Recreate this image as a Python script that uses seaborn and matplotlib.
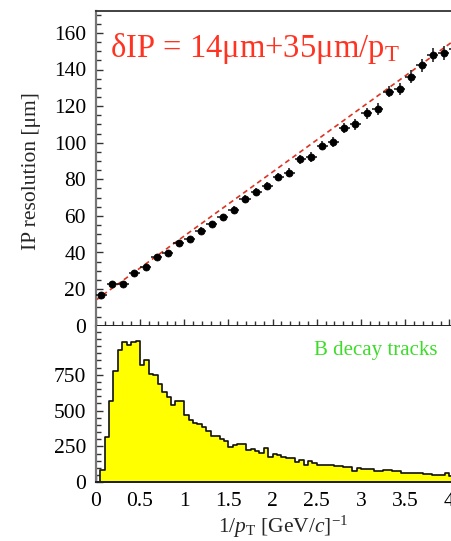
import numpy as np
import pandas as pd
import matplotlib
matplotlib.use("Agg")
import matplotlib.pyplot as plt
from matplotlib.ticker import MultipleLocator, FixedLocator
import seaborn as sns

# ---------------- data ----------------
# top panel: IP resolution vs 1/pT (bin centres, width 0.125)
inv_pt = [0.0625, 0.1875, 0.3125, 0.4375, 0.5625, 0.6875, 0.8125, 0.9375,
          1.0625, 1.1875, 1.3125, 1.4375, 1.5625, 1.6875, 1.8125, 1.9375,
          2.0625, 2.1875, 2.3125, 2.4375, 2.5625, 2.6875, 2.8125, 2.9375,
          3.0625, 3.1875, 3.3125, 3.4375, 3.5625, 3.6875, 3.8125, 3.9375,
          4.0625]
ip_res = [16.8, 23.0, 22.6, 28.8, 32.2, 37.7, 39.6, 45.4, 47.5, 51.9, 55.6,
          59.2, 63.2, 69.2, 72.9, 76.3, 81.3, 83.6, 90.9, 92.3, 98.4, 100.5,
          107.9, 110.1, 116.1, 118.4, 127.9, 129.2, 136.1, 142.3, 147.9, 148.9,
          151.2]
ip_err = [1.4, 1.4, 1.4, 1.5, 1.5, 1.6, 1.6, 1.7, 1.7, 1.8, 1.8, 1.9, 2.0,
          2.1, 2.1, 2.2, 2.3, 2.4, 2.5, 2.6, 2.6, 2.7, 2.8, 2.9, 3.0, 3.1,
          3.2, 3.3, 3.4, 3.5, 3.6, 3.7, 3.8]
x_halfwidth = 0.0625
fit_const = 14.0   # um
fit_slope = 35.0   # um / (1/pT)

# bottom panel: B decay track 1/pT distribution (bin width 0.05)
hist_edges = [round(0.05 * i, 2) for i in range(85)]
hist_counts = [0, 84, 318, 567, 779, 923, 981, 960, 979, 984,
               818, 853, 758, 746, 684, 628, 597, 537, 569, 569,
               470, 435, 412, 405, 388, 360, 325, 325, 300, 290,
               249, 260, 269, 265, 225, 232, 216, 202, 237, 179,
               195, 192, 179, 170, 170, 140, 156, 123, 147, 138,
               124, 119, 122, 121, 115, 114, 107, 106, 81, 100,
               94, 91, 90, 82, 81, 86, 84, 79, 78, 67,
               63, 63, 66, 66, 58, 58, 53, 53, 53, 62,
               47, 45, 44, 42]
hist_centers = [(hist_edges[i] + hist_edges[i + 1]) / 2 for i in range(len(hist_counts))]

x_ticks = [0, 0.5, 1, 1.5, 2, 2.5, 3, 3.5, 4]
x_ticklabels = ["0", "0.5", "1", "1.5", "2", "2.5", "3", "3.5", "4"]
top_yticks = [0, 20, 40, 60, 80, 100, 120, 140, 160]
bot_yticks = [0, 250, 500, 750]

# ---------------- style ----------------
sns.set_style("ticks")
plt.rcParams["font.family"] = ["Liberation Serif", "DejaVu Serif"]
plt.rcParams["mathtext.fontset"] = "custom"
plt.rcParams["mathtext.rm"] = "Liberation Serif"
plt.rcParams["mathtext.it"] = "Liberation Serif:italic"
plt.rcParams["mathtext.bf"] = "Liberation Serif:bold"

W, H = 452, 541
fig = plt.figure(figsize=(W / 100, H / 100), dpi=100)
fig.patch.set_facecolor("white")

x0_px = 95.8
px_per_unit = 88.4
xmax = 4.2
ax_w = xmax * px_per_unit

top_y0_px, top_top_px = 325.7, 11.0
top_ymax = (top_y0_px - top_top_px) / 1.83
bot_y0_px, bot_top_px = 482.3, 326.0
bot_ymax = (bot_y0_px - bot_top_px) / 0.1433

ax1 = fig.add_axes([x0_px / W, 1 - top_y0_px / H, ax_w / W, (top_y0_px - top_top_px) / H])
ax2 = fig.add_axes([x0_px / W, 1 - bot_y0_px / H, ax_w / W, (bot_y0_px - bot_top_px) / H])

for ax in (ax1, ax2):
    ax.set_facecolor("white")
    ax.set_xlim(0, xmax)
    ax.xaxis.set_major_locator(FixedLocator(x_ticks))
    ax.xaxis.set_minor_locator(MultipleLocator(0.1))
    ax.tick_params(which="both", direction="in", colors="#333333",
                   labelcolor="black", labelsize=15.5)
    ax.tick_params(which="major", length=5.2, width=1.0)
    ax.tick_params(which="minor", length=3.3, width=1.0)
    ax.tick_params(axis="y", pad=7)
    ax.tick_params(axis="x", pad=7)
    ax.spines["right"].set_visible(False)
    ax.spines["left"].set_color("#777777")
    ax.spines["left"].set_linewidth(1.6)
    ax.spines["bottom"].set_color("#222222")
    ax.spines["bottom"].set_linewidth(1.4)

# ---------------- top panel ----------------
ax1.set_ylim(0, top_ymax)
ax1.yaxis.set_major_locator(FixedLocator(top_yticks))
ax1.yaxis.set_minor_locator(MultipleLocator(5))
ax1.set_yticklabels([str(t) for t in top_yticks])
ax1.set_xticklabels([])
ax1.spines["top"].set_color("#333333")
ax1.spines["top"].set_linewidth(1.3)

fx = [0, xmax]
fy = [fit_const + fit_slope * v for v in fx]
ax1.plot(fx, fy, color="#dd3322", lw=1.2, linestyle=(0, (3.0, 2.2)), zorder=2)

ax1.errorbar(inv_pt, ip_res, xerr=x_halfwidth, yerr=ip_err, fmt="none",
             ecolor="#111111", elinewidth=1.1, capsize=0, zorder=3)
df_top = pd.DataFrame({"inv_pt": inv_pt, "ip_res": ip_res})
sns.scatterplot(data=df_top, x="inv_pt", y="ip_res", ax=ax1, color="black",
                s=26, edgecolor="black", linewidth=0.5, zorder=4, legend=False)
ax1.set_xlabel("")
ax1.set_ylabel("")

# ---------------- bottom panel ----------------
df_hist = pd.DataFrame({"x": hist_centers, "w": hist_counts})
sns.histplot(data=df_hist, x="x", weights="w", bins=hist_edges, element="step",
             fill=True, ax=ax2, color="#ffff00", alpha=1.0, edgecolor="#111111",
             linewidth=1.2)
ax2.set_ylim(0, bot_ymax)
ax2.yaxis.set_major_locator(FixedLocator(bot_yticks))
ax2.yaxis.set_minor_locator(MultipleLocator(50))
ax2.set_yticklabels([str(t) for t in bot_yticks])
ax2.set_xticklabels(x_ticklabels)
ax2.spines["top"].set_visible(False)
ax2.set_xlabel("")
ax2.set_ylabel("")

# ---------------- texts ----------------
fig.text(32 / W, 1 - 171 / H, "IP resolution [μm]", rotation=90,
         ha="center", va="center", fontsize=15.5)
fig.text(283 / W, 1 - 527 / H, r"1/$p_{\rm T}$ [GeV/$c$]$^{-1}$",
         ha="center", va="center", fontsize=15.5)
fig.text(110 / W, 1 - 57 / H, r"δIP = 14μm+35μm/p$_{\rm T}$",
         ha="left", va="baseline", fontsize=23.5, color="#ff3322")
fig.text(314 / W, 1 - 355 / H, "B decay tracks", ha="left", va="baseline",
         fontsize=15, color="#3ddc2a")

fig.savefig("out.png", dpi=100, facecolor="white")
